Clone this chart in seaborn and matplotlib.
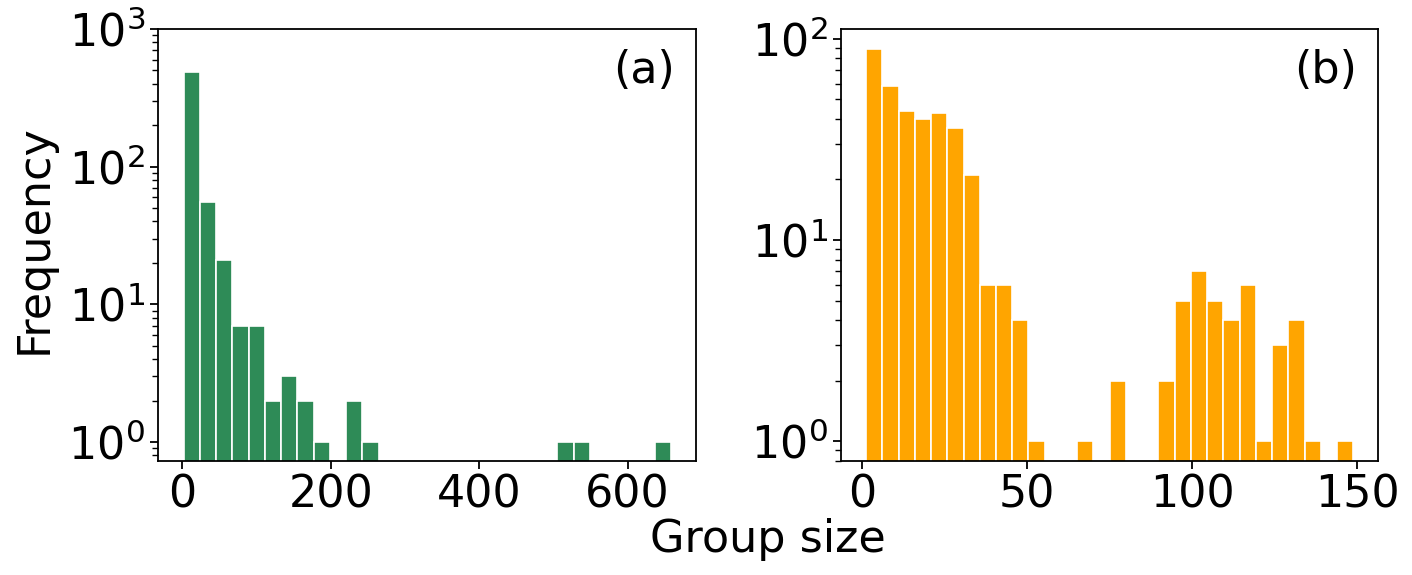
import matplotlib
matplotlib.use("Agg")
import matplotlib.pyplot as plt
import numpy as np
import seaborn as sns

# histogram counts (30 equal bins per panel)
counts_a = [491, 55, 21, 7, 7, 2, 3, 2, 1, 0, 2, 1, 0, 0, 0,
            0, 0, 0, 0, 0, 0, 0, 0, 1, 1, 0, 0, 0, 0, 1]
range_a = (2.0, 658.5)

counts_b = [89, 58, 44, 40, 43, 36, 21, 6, 6, 4, 1, 0, 0, 1, 0,
            2, 0, 0, 2, 5, 7, 5, 4, 6, 1, 3, 4, 1, 0, 1]
range_b = (1.2, 148.8)

xticks_a = [0, 200, 400, 600]
xticks_b = [0, 50, 100, 150]

FS = 32

fig = plt.figure(figsize=(14.12, 5.75), dpi=100)
ax1 = fig.add_axes([0.1121, 0.1988, 0.3808, 0.7508])
ax2 = fig.add_axes([0.5956, 0.1988, 0.3806, 0.7508])


def draw(ax, counts, rng, color):
    sns.histplot(x=np.linspace(rng[0], rng[1], len(counts) * 2 + 1)[1::2],
                 weights=np.asarray(counts, float), bins=len(counts),
                 binrange=rng, ax=ax, color=color,
                 alpha=1, edgecolor="white", linewidth=1.2)
    ax.set_yscale("log")
    ax.set_ylabel("")
    ax.set_xlabel("")
    for s in ax.spines.values():
        s.set_linewidth(1.3)
    ax.tick_params(axis="both", which="major", labelsize=FS, length=6, width=1.3)
    ax.tick_params(axis="both", which="minor", length=4, width=1.0)


draw(ax1, counts_a, range_a, "#2e8b57")
ax1.set_xlim(-32.3, 692)
ax1.set_ylim(0.733, 1000)
ax1.set_xticks(xticks_a)
ax1.text(0.961, 0.903, "(a)", transform=ax1.transAxes, ha="right", va="center", fontsize=FS)

draw(ax2, counts_b, range_b, "#ffa500")
ax2.set_xlim(-6.4, 156.4)
ax2.set_ylim(0.80, 112)
ax2.set_xticks(xticks_b)
ax2.text(0.961, 0.903, "(b)", transform=ax2.transAxes, ha="right", va="center", fontsize=FS)

fig.text(0.024, 0.585, "Frequency", rotation=90, ha="center", va="center", fontsize=FS)
fig.text(0.544, 0.061, "Group size", ha="center", va="center", fontsize=FS)

fig.savefig("out.png", dpi=100)
